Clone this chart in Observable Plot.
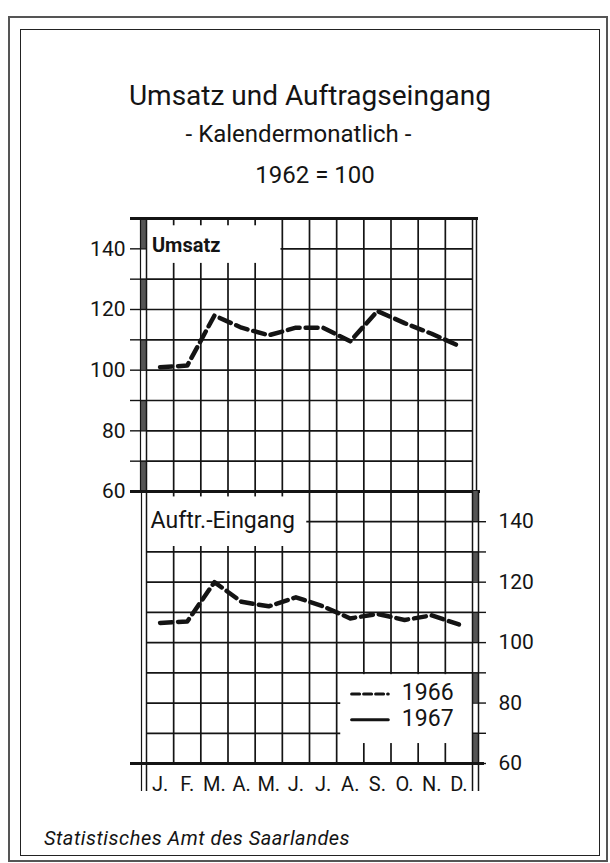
<!DOCTYPE html>
<html><head><meta charset="utf-8">
<script src="https://cdn.jsdelivr.net/npm/d3@7"></script>
<script src="https://cdn.jsdelivr.net/npm/@observablehq/plot@0.6"></script>
<style>
body{margin:0;background:#fff;}
#page{position:relative;width:610px;height:863px;overflow:hidden;font-family:Roboto,"DejaVu Sans",sans-serif;color:#141414;}
.abs{position:absolute;}
.frame-out{left:8px;top:16px;width:596px;height:842px;border:2px solid #555;}
.frame-in{left:20px;top:29px;width:578px;height:825px;border:1.5px solid #222;}
.title{left:0;width:620px;top:79px;text-align:center;font-size:28px;line-height:34px;}
.sub{left:0;width:597px;top:119px;text-align:center;font-size:24px;line-height:30px;}
.base{left:0;width:630px;top:161px;text-align:center;font-size:24px;line-height:28px;}
.foot{left:44px;top:826px;font-size:20px;line-height:24px;font-style:italic;letter-spacing:0.5px;}
</style></head><body>
<div id="page">
  <div class="abs frame-out"></div>
  <div class="abs frame-in"></div>
  <div class="abs title">Umsatz und Auftragseingang</div>
  <div class="abs sub">- Kalendermonatlich -</div>
  <div class="abs base">1962 = 100</div>
  <div class="abs" id="upper" style="left:0;top:200px;"></div>
  <div class="abs" id="lower" style="left:0;top:480px;"></div>
  <div class="abs foot">Statistisches Amt des Saarlandes</div>
</div>
<script>
// ---- data ----
const months = ["J.","F.","M.","A.","M.","J.","J.","A.","S.","O.","N.","D."];
const umsatz1966 = [101, 101.5, 118, 114, 111.5, 114, 114, 109.5, 119.5, 115.5, 112, 108];
const auftrag1966 = [106.5, 107, 120, 113.5, 112, 115, 112, 108, 109.5, 107.5, 109, 106];
const yTickLabels = [60, 80, 100, 120, 140];
const yGrid = [70, 80, 90, 100, 110, 120, 130, 140];
const yDomain = [60, 150];
const legendYears = ["1966", "1967"];

// ---- helpers ----
const ink = "#141414";
const font = "Roboto, DejaVu Sans, sans-serif";
const monthIdx = d3.range(months.length);
const boundaries = d3.range(1, months.length);
const allTicks = d3.range(yDomain[0], yDomain[1], 10);
const rulerBands = d3.range(yDomain[0], yDomain[1], 20).map(lo => ({lo, hi: lo + 10}));
const series = (vals) => vals.map((v, i) => ({x: i + 0.5, y: v}));

const common = {
  width: 610,
  marginLeft: 146,
  marginRight: 138,
  x: {domain: [0, 12], axis: null},
  y: {domain: yDomain, axis: null},
  style: {background: "transparent", overflow: "visible", fontFamily: font, color: ink}
};

// ---- upper panel: Umsatz ----
const upper = Plot.plot({
  ...common,
  height: 292,
  marginTop: 18,
  marginBottom: 1,
  marks: [
    Plot.ruleY(yGrid, {stroke: ink, strokeWidth: 1.7}),
    Plot.ruleX(boundaries, {stroke: ink, strokeWidth: 1.7}),
    // label box
    Plot.rect([{x1: 0, x2: 4.95, y1: 135.2, y2: 147.6}], {x1: "x1", x2: "x2", y1: "y1", y2: "y2", fill: "white"}),
    Plot.text(["Umsatz"], {x: 0.2, y: 141, text: d => d, textAnchor: "start", fontSize: 20, fontWeight: "bold", fill: ink}),
    // ruler bar on left axis
    Plot.ruleX(rulerBands, {x: 0, y1: "lo", y2: "hi", stroke: "#555", strokeWidth: 6, dx: -3}),
    Plot.ruleX([0], {stroke: ink, strokeWidth: 1.5}),
    Plot.ruleX([0], {stroke: ink, strokeWidth: 1.2, dx: -6}),
    Plot.ruleX([12], {stroke: ink, strokeWidth: 1.5}),
    Plot.ruleX([12], {stroke: ink, strokeWidth: 1.5, dx: 4}),
    Plot.axisY({ticks: allTicks, tickSize: 16, tickPadding: 5, anchor: "left",
      tickFormat: d => yTickLabels.includes(d) ? d : "", fontSize: 21, stroke: ink, strokeWidth: 1.4}),
    Plot.ruleY([yDomain[1]], {stroke: ink, strokeWidth: 3, insetLeft: -16, insetRight: -6}),
    Plot.ruleY([yDomain[0]], {stroke: ink, strokeWidth: 3.2, insetLeft: -16, insetRight: -8}),
    Plot.line(series(umsatz1966), {x: "x", y: "y", stroke: ink, strokeWidth: 4.5, strokeDasharray: "12,6", strokeLinejoin: "round"})
  ]
});
document.getElementById("upper").append(upper);

// ---- lower panel: Auftragseingang ----
const lower = Plot.plot({
  ...common,
  height: 323,
  marginTop: 11,
  marginBottom: 40,
  marks: [
    Plot.ruleY(yGrid, {stroke: ink, strokeWidth: 1.7}),
    Plot.ruleX(boundaries, {stroke: ink, strokeWidth: 1.7}),
    // label box
    Plot.rect([{x1: 0, x2: 5.9, y1: 131.8, y2: 148.2}], {x1: "x1", x2: "x2", y1: "y1", y2: "y2", fill: "white"}),
    Plot.text(["Auftr.-Eingang"], {x: 0.15, y: 140.5, text: d => d, textAnchor: "start", fontSize: 23, fill: ink}),
    // legend box
    Plot.rect([{x1: 7.15, x2: 12, y1: 66.6, y2: 89.4}], {x1: "x1", x2: "x2", y1: "y1", y2: "y2", fill: "white"}),
    Plot.line([{x: 7.55, y: 83}, {x: 8.9, y: 83}], {x: "x", y: "y", stroke: ink, strokeWidth: 3, strokeDasharray: "8,4"}),
    Plot.line([{x: 7.55, y: 74.5}, {x: 8.9, y: 74.5}], {x: "x", y: "y", stroke: ink, strokeWidth: 3}),
    Plot.text(legendYears, {x: 9.4, y: (d, i) => i === 0 ? 83.5 : 75, text: d => d, textAnchor: "start", fontSize: 23, fill: ink}),
    // ruler bar on right axis
    Plot.ruleX(rulerBands, {x: 12, y1: "lo", y2: "hi", stroke: "#555", strokeWidth: 6, dx: 3}),
    Plot.ruleX([0], {stroke: ink, strokeWidth: 1.5, insetBottom: -28}),
    Plot.ruleX([0], {stroke: ink, strokeWidth: 1.2, dx: -5, insetBottom: -28}),
    Plot.ruleX([12], {stroke: ink, strokeWidth: 1.5, insetBottom: -28}),
    Plot.ruleX([12], {stroke: ink, strokeWidth: 1.5, dx: 6, insetBottom: -28}),
    Plot.axisY({ticks: allTicks, tickSize: 13, tickPadding: 13, anchor: "right",
      tickFormat: d => yTickLabels.includes(d) ? d : "", fontSize: 21, stroke: ink, strokeWidth: 1.4}),
    Plot.ruleY([yDomain[0]], {stroke: ink, strokeWidth: 3.2, insetLeft: -16, insetRight: -12}),
    Plot.axisX({ticks: monthIdx.map(i => i + 0.5), tickFormat: d => months[Math.floor(d)], tickSize: 0, tickPadding: 13, fontSize: 20, anchor: "bottom"}),
    Plot.line(series(auftrag1966), {x: "x", y: "y", stroke: ink, strokeWidth: 4.5, strokeDasharray: "12,6", strokeLinejoin: "round"})
  ]
});
document.getElementById("lower").append(lower);
</script>
</body></html>
